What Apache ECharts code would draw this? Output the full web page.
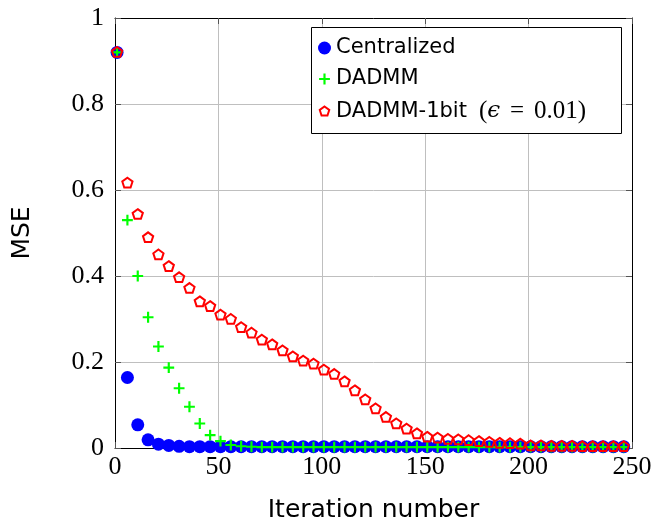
<!DOCTYPE html>
<html>
<head>
<meta charset="utf-8">
<script src="https://cdn.jsdelivr.net/npm/echarts@6/dist/echarts.min.js"></script>
<style>
  html, body { margin: 0; padding: 0; background: #fff; }
  #chart { width: 657px; height: 523px; }
</style>
</head>
<body>
<div id="chart"></div>
<script>
// Iteration indices at which the MSE was recorded
const iterations = [1, 6, 11, 16, 21, 26, 31, 36, 41, 46,
  51, 56, 61, 66, 71, 76, 81, 86, 91, 96,
  101, 106, 111, 116, 121, 126, 131, 136, 141, 146,
  151, 156, 161, 166, 171, 176, 181, 186, 191, 196,
  201, 206, 211, 216, 221, 226, 231, 236, 241, 246];

const centralized = [0.920, 0.164, 0.054, 0.019, 0.009, 0.006, 0.004, 0.003, 0.003, 0.003,
  0.003, 0.003, 0.003, 0.003, 0.003, 0.003, 0.003, 0.003, 0.003, 0.003,
  0.003, 0.003, 0.003, 0.003, 0.003, 0.003, 0.003, 0.003, 0.003, 0.003,
  0.003, 0.003, 0.003, 0.003, 0.003, 0.003, 0.003, 0.003, 0.003, 0.003,
  0.003, 0.003, 0.003, 0.003, 0.003, 0.003, 0.003, 0.003, 0.003, 0.003];

const dadmm = [0.920, 0.530, 0.400, 0.304, 0.236, 0.187, 0.139, 0.096, 0.057, 0.030,
  0.016, 0.007, 0.004, 0.003, 0.002, 0.002, 0.002, 0.002, 0.002, 0.002,
  0.002, 0.002, 0.002, 0.002, 0.002, 0.002, 0.002, 0.002, 0.002, 0.002,
  0.002, 0.002, 0.002, 0.002, 0.002, 0.002, 0.002, 0.002, 0.002, 0.002,
  0.002, 0.002, 0.002, 0.002, 0.002, 0.002, 0.002, 0.002, 0.002, 0.002];

const dadmm1bit = [0.920, 0.616, 0.543, 0.489, 0.449, 0.422, 0.396, 0.371, 0.340, 0.329,
  0.309, 0.299, 0.280, 0.267, 0.251, 0.240, 0.226, 0.212, 0.202, 0.195,
  0.181, 0.171, 0.154, 0.133, 0.112, 0.091, 0.071, 0.056, 0.044, 0.033,
  0.025, 0.023, 0.020, 0.019, 0.017, 0.015, 0.013, 0.011, 0.010, 0.009,
  0.005, 0.005, 0.004, 0.004, 0.004, 0.003, 0.003, 0.003, 0.003, 0.003];

const xTicks = [0, 50, 100, 150, 200, 250];
const yTicks = [0, 0.2, 0.4, 0.6, 0.8, 1];

const seriesNames = ['Centralized', 'DADMM', 'DADMM-1bit (ϵ = 0.01)'];

// Marker outlines; the zero-length corner strokes pad the bounding box so the
// visible shape sits a little inside the symbol size.
const PLUS = 'path://M-6,-6L-6,-6M6,6L6,6M-1,-5H1V-1H5V1H1V5H-1V1H-5V-1H-1Z';
const PENTAGON = 'path://M-1.3,-1.3L-1.3,-1.3M1.3,1.3L1.3,1.3M0,-1L0.951,-0.309L0.588,0.809L-0.588,0.809L-0.951,-0.309Z';

const serif = 'Liberation Serif';
const sans = 'DejaVu Sans';

function pairs(ys) { return iterations.map((x, i) => [x, ys[i]]); }

const tickStyle = { show: true, inside: true, length: 6, lineStyle: { color: '#555', width: 1 } };
const axisLine = { show: true, onZero: false, lineStyle: { color: '#000', width: 1 } };
const gridLine = { show: true, lineStyle: { color: '#bfbfbf', width: 1 } };

const chart = echarts.init(document.getElementById('chart'), null, { renderer: 'canvas' });

chart.setOption({
  animation: false,
  backgroundColor: '#fff',
  grid: { left: 115, right: 25, top: 18, bottom: 75, containLabel: false, outerBoundsMode: 'none' },
  xAxis: [{
    type: 'value', min: xTicks[0], max: xTicks[xTicks.length - 1], interval: 50,
    position: 'bottom',
    name: 'Iteration number', nameLocation: 'middle', nameGap: 50,
    nameTextStyle: { fontFamily: sans, fontSize: 25, color: '#000' },
    axisLine, axisTick: tickStyle, splitLine: gridLine,
    axisLabel: { fontFamily: serif, fontSize: 26, color: '#000', margin: 6 }
  }, {
    type: 'value', min: xTicks[0], max: xTicks[xTicks.length - 1], interval: 50,
    position: 'top',
    axisLine, axisTick: tickStyle, splitLine: { show: false }, axisLabel: { show: false }
  }],
  yAxis: [{
    type: 'value', min: yTicks[0], max: yTicks[yTicks.length - 1], interval: 0.2,
    position: 'left',
    name: 'MSE', nameLocation: 'middle', nameGap: 80,
    nameTextStyle: { fontFamily: sans, fontSize: 25, color: '#000' },
    axisLine, axisTick: tickStyle, splitLine: gridLine,
    axisLabel: {
      fontFamily: serif, fontSize: 26, color: '#000', margin: 11,
      formatter: v => (v === 0 || v === 1) ? String(v) : v.toFixed(1)
    }
  }, {
    type: 'value', min: yTicks[0], max: yTicks[yTicks.length - 1], interval: 0.2,
    position: 'right',
    axisLine, axisTick: tickStyle, splitLine: { show: false }, axisLabel: { show: false }
  }],
  graphic: [{
    type: 'rect', z: 3, silent: true,
    shape: { x: 311.5, y: 27.5, width: 310, height: 106 },
    style: { fill: '#fff', stroke: '#000', lineWidth: 1 }
  }],
  legend: {
    orient: 'vertical', left: 317, top: 37, padding: 0, z: 5,
    itemWidth: 13, itemHeight: 13, itemGap: 9,
    textStyle: { fontFamily: sans, fontSize: 21, color: '#000', lineHeight: 22,
      rich: {
        s: { fontFamily: sans, fontSize: 21, lineHeight: 22, color: '#000' },
        g: { fontFamily: sans, fontSize: 21, lineHeight: 22, width: 12 },
        m: { fontFamily: serif, fontSize: 25, lineHeight: 22, color: '#000' },
        e: { fontFamily: serif, fontSize: 25, lineHeight: 22, color: '#000', width: 34, align: 'center' },
        i: { fontFamily: 'DejaVu Serif', fontSize: 23, lineHeight: 22, fontStyle: 'italic', color: '#000' }
      }
    },
    formatter: name => name === seriesNames[2]
      ? '{s|DADMM-1bit}{g| }{m|(}{i|ϵ}{e|=}{m|0.01)}'
      : name,
    data: [
      { name: seriesNames[0], icon: 'circle', itemStyle: { color: '#0000ff', borderWidth: 0 } },
      { name: seriesNames[1], icon: PLUS, itemStyle: { color: '#00ff00', borderWidth: 0 } },
      { name: seriesNames[2], icon: PENTAGON,
        itemStyle: { color: 'rgba(0,0,0,0)', borderColor: '#ff0000', borderWidth: 2 } }
    ]
  },
  series: [{
    name: seriesNames[0], type: 'scatter', data: pairs(centralized),
    symbol: 'circle', symbolSize: 13,
    itemStyle: { color: '#0000ff', opacity: 1 }, emphasis: { disabled: true }
  }, {
    name: seriesNames[1], type: 'scatter', data: pairs(dadmm),
    symbol: PLUS, symbolSize: 13,
    itemStyle: { color: '#00ff00', opacity: 1 }, emphasis: { disabled: true }
  }, {
    name: seriesNames[2], type: 'scatter', data: pairs(dadmm1bit),
    symbol: PENTAGON, symbolSize: 14,
    itemStyle: { color: 'rgba(0,0,0,0)', borderColor: '#ff0000', borderWidth: 2, opacity: 1 },
    emphasis: { disabled: true }
  }]
});
</script>
</body>
</html>
